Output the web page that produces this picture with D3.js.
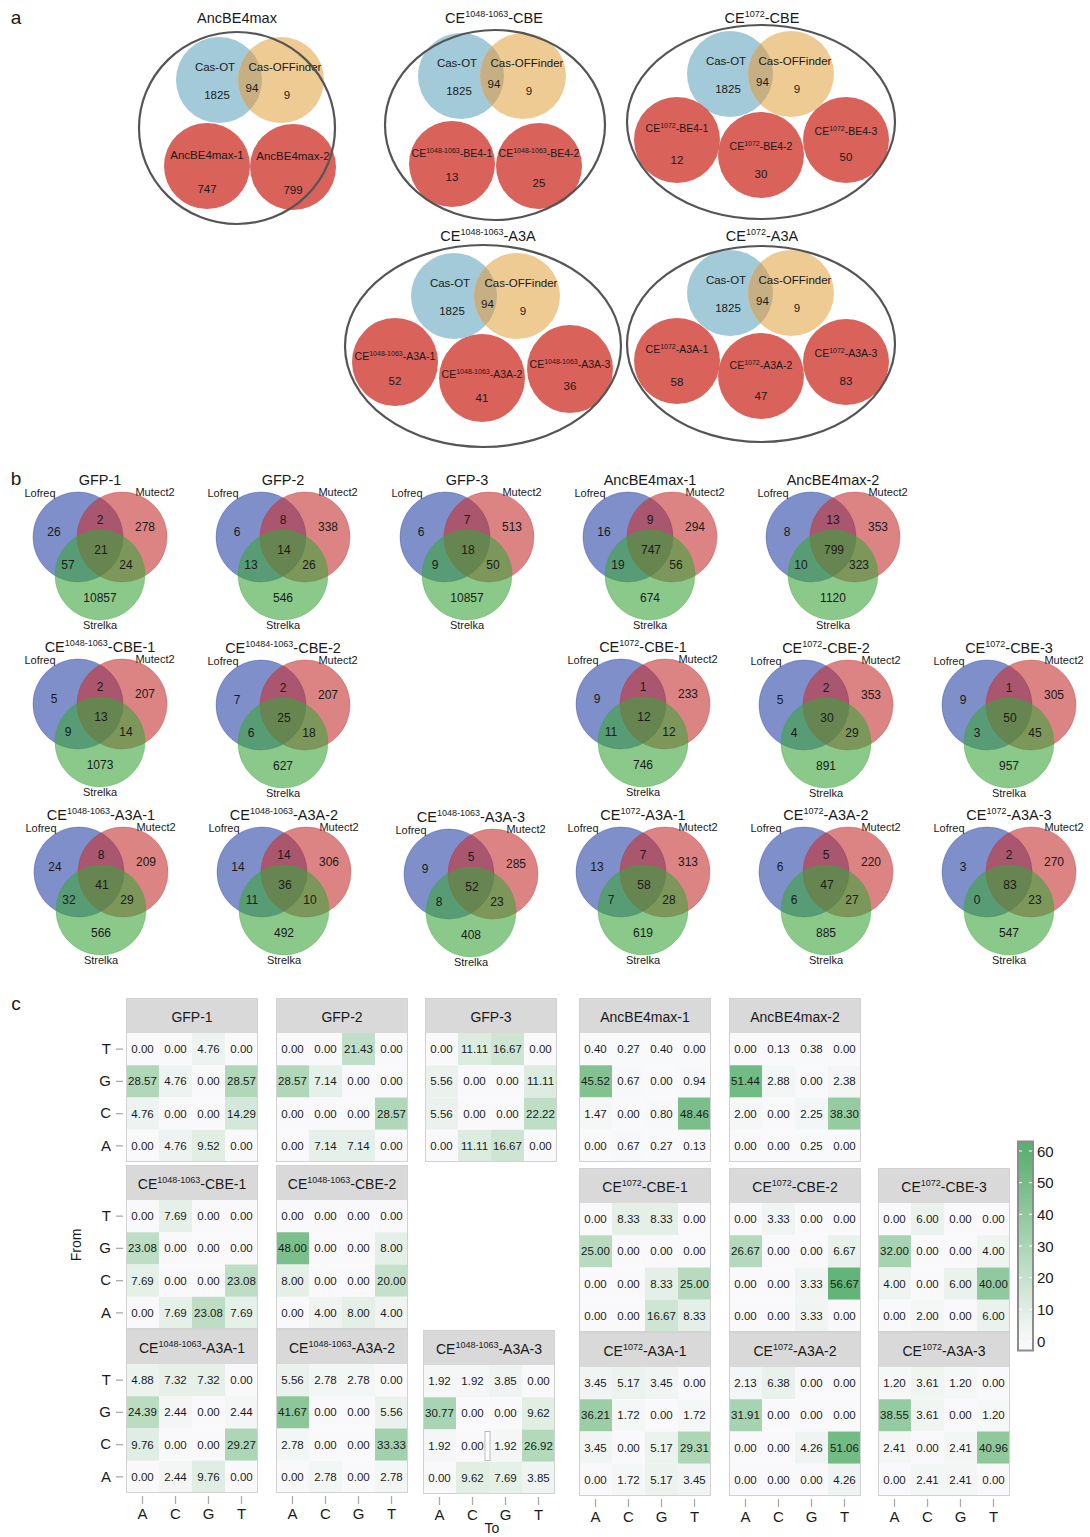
<!DOCTYPE html>
<html><head><meta charset="utf-8">
<script src="https://cdn.jsdelivr.net/npm/d3@7"></script>
<style>body{margin:0;background:#fff} svg text{font-family:"Liberation Sans",Arial,sans-serif}</style>
</head><body>
<svg id="fig" width="1090" height="1537"></svg>
<script>
// ================= DATA =================
// ---- panel a ----
const aGroupTitles = ["AncBE4max", "CE^1048-1063^-CBE", "CE^1072^-CBE", "CE^1048-1063^-A3A", "CE^1072^-A3A"];
const aToolLabels = ["Cas-OT", "Cas-OFFinder"];
const aToolCounts = [1825, 94, 9]; // Cas-OT only, shared, Cas-OFFinder only
const aSampleLabels = [
  ["AncBE4max-1", "AncBE4max-2"],
  ["CE^1048-1063^-BE4-1", "CE^1048-1063^-BE4-2"],
  ["CE^1072^-BE4-1", "CE^1072^-BE4-2", "CE^1072^-BE4-3"],
  ["CE^1048-1063^-A3A-1", "CE^1048-1063^-A3A-2", "CE^1048-1063^-A3A-3"],
  ["CE^1072^-A3A-1", "CE^1072^-A3A-2", "CE^1072^-A3A-3"]
];
const aSampleCounts = [[747, 799], [13, 25], [12, 30, 50], [52, 41, 36], [58, 47, 83]];

// ---- panel b ----
const bCallers = ["Lofreq", "Mutect2", "Strelka"];
const bSamples = ["GFP-1", "GFP-2", "GFP-3", "AncBE4max-1", "AncBE4max-2",
  "CE^1048-1063^-CBE-1", "CE^10484-1063^-CBE-2", "CE^1072^-CBE-1", "CE^1072^-CBE-2", "CE^1072^-CBE-3",
  "CE^1048-1063^-A3A-1", "CE^1048-1063^-A3A-2", "CE^1048-1063^-A3A-3", "CE^1072^-A3A-1", "CE^1072^-A3A-2", "CE^1072^-A3A-3"];
// regions: Lofreq only, Lofreq&Mutect2, Mutect2 only, all three, Lofreq&Strelka, Mutect2&Strelka, Strelka only
const bRegions = ["L", "LM", "M", "LMS", "LS", "MS", "S"];
const bCounts = [
  [26, 2, 278, 21, 57, 24, 10857],
  [6, 8, 338, 14, 13, 26, 546],
  [6, 7, 513, 18, 9, 50, 10857],
  [16, 9, 294, 747, 19, 56, 674],
  [8, 13, 353, 799, 10, 323, 1120],
  [5, 2, 207, 13, 9, 14, 1073],
  [7, 2, 207, 25, 6, 18, 627],
  [9, 1, 233, 12, 11, 12, 746],
  [5, 2, 353, 30, 4, 29, 891],
  [9, 1, 305, 50, 3, 45, 957],
  [24, 8, 209, 41, 32, 29, 566],
  [14, 14, 306, 36, 11, 10, 492],
  [9, 5, 285, 52, 8, 23, 408],
  [13, 7, 313, 58, 7, 28, 619],
  [6, 5, 220, 47, 6, 27, 885],
  [3, 2, 270, 83, 0, 23, 547]
];

// ---- panel c ----
const cFrom = ["T", "G", "C", "A"];
const cTo = ["A", "C", "G", "T"];
const cSamples = ["GFP-1", "GFP-2", "GFP-3", "AncBE4max-1", "AncBE4max-2",
  "CE^1048-1063^-CBE-1", "CE^1048-1063^-CBE-2", "CE^1072^-CBE-1", "CE^1072^-CBE-2", "CE^1072^-CBE-3",
  "CE^1048-1063^-A3A-1", "CE^1048-1063^-A3A-2", "CE^1048-1063^-A3A-3", "CE^1072^-A3A-1", "CE^1072^-A3A-2", "CE^1072^-A3A-3"];
const cValues = [
  [[0.00, 0.00, 4.76, 0.00], [28.57, 4.76, 0.00, 28.57], [4.76, 0.00, 0.00, 14.29], [0.00, 4.76, 9.52, 0.00]],
  [[0.00, 0.00, 21.43, 0.00], [28.57, 7.14, 0.00, 0.00], [0.00, 0.00, 0.00, 28.57], [0.00, 7.14, 7.14, 0.00]],
  [[0.00, 11.11, 16.67, 0.00], [5.56, 0.00, 0.00, 11.11], [5.56, 0.00, 0.00, 22.22], [0.00, 11.11, 16.67, 0.00]],
  [[0.40, 0.27, 0.40, 0.00], [45.52, 0.67, 0.00, 0.94], [1.47, 0.00, 0.80, 48.46], [0.00, 0.67, 0.27, 0.13]],
  [[0.00, 0.13, 0.38, 0.00], [51.44, 2.88, 0.00, 2.38], [2.00, 0.00, 2.25, 38.30], [0.00, 0.00, 0.25, 0.00]],
  [[0.00, 7.69, 0.00, 0.00], [23.08, 0.00, 0.00, 0.00], [7.69, 0.00, 0.00, 23.08], [0.00, 7.69, 23.08, 7.69]],
  [[0.00, 0.00, 0.00, 0.00], [48.00, 0.00, 0.00, 8.00], [8.00, 0.00, 0.00, 20.00], [0.00, 4.00, 8.00, 4.00]],
  [[0.00, 8.33, 8.33, 0.00], [25.00, 0.00, 0.00, 0.00], [0.00, 0.00, 8.33, 25.00], [0.00, 0.00, 16.67, 8.33]],
  [[0.00, 3.33, 0.00, 0.00], [26.67, 0.00, 0.00, 6.67], [0.00, 0.00, 3.33, 56.67], [0.00, 0.00, 3.33, 0.00]],
  [[0.00, 6.00, 0.00, 0.00], [32.00, 0.00, 0.00, 4.00], [4.00, 0.00, 6.00, 40.00], [0.00, 2.00, 0.00, 6.00]],
  [[4.88, 7.32, 7.32, 0.00], [24.39, 2.44, 0.00, 2.44], [9.76, 0.00, 0.00, 29.27], [0.00, 2.44, 9.76, 0.00]],
  [[5.56, 2.78, 2.78, 0.00], [41.67, 0.00, 0.00, 5.56], [2.78, 0.00, 0.00, 33.33], [0.00, 2.78, 0.00, 2.78]],
  [[1.92, 1.92, 3.85, 0.00], [30.77, 0.00, 0.00, 9.62], [1.92, 0.00, 1.92, 26.92], [0.00, 9.62, 7.69, 3.85]],
  [[3.45, 5.17, 3.45, 0.00], [36.21, 1.72, 0.00, 1.72], [3.45, 0.00, 5.17, 29.31], [0.00, 1.72, 5.17, 3.45]],
  [[2.13, 6.38, 0.00, 0.00], [31.91, 0.00, 0.00, 0.00], [0.00, 0.00, 4.26, 51.06], [0.00, 0.00, 0.00, 4.26]],
  [[1.20, 3.61, 1.20, 0.00], [38.55, 3.61, 0.00, 1.20], [2.41, 0.00, 2.41, 40.96], [0.00, 2.41, 2.41, 0.00]]
];
const cLegendTicks = [0, 10, 20, 30, 40, 50, 60];
const cAxisTitles = ["From", "To"];

// ================= LAYOUT =================
const aTitlePos = [[237, 18], [494, 18], [762, 18], [488, 236], [762, 236]];
// reds: [cx, cy, labelDy, numberDy]
const aLayout = [
  {ell: [237, 128, 98, 96], blue: [219, 80], orange: [281, 80], r: 43,
   reds: [[207, 166, -11, 23], [293, 167, -11, 23]], rrx: 43, rry: 43},
  {ell: [495, 125, 110, 95], blue: [461, 76], orange: [523, 76], r: 43,
   reds: [[452, 164, -11, 13], [539, 166, -13, 17]], rrx: 43, rry: 43},
  {ell: [761, 122, 134, 97], blue: [730, 74], orange: [791, 74], r: 43,
   reds: [[677, 140, -12, 20], [761, 155, -9, 19], [846, 140, -9, 17]], rrx: 43, rry: 43},
  {ell: [483, 346, 138, 101], blue: [454, 296], orange: [517, 296], r: 43,
   reds: [[395, 362, -6, 19], [482, 378, -4, 20], [570, 369, -5, 17]], rrx: 43, rry: 44},
  {ell: [761, 344, 134, 98], blue: [730, 293], orange: [791, 293], r: 43,
   reds: [[677, 361, -12, 21], [761, 376, -11, 20], [846, 362, -9, 19]], rrx: 43, rry: 43}
];
const bPos = [[100, 480], [283, 480], [467, 480], [650, 480], [833, 480],
  [100, 647], [283, 648], [643, 647], [826, 648], [1009, 648],
  [101, 815], [284, 815], [471, 817], [643, 815], [826, 815], [1009, 815]];
const bNumOffset = {L: [-46, 52], LM: [0, 40], M: [45, 47], LMS: [1, 70], LS: [-32, 85], MS: [26, 85], S: [0, 118]};
const cPos = [[126, 998], [276, 998], [425, 998], [579, 998], [729, 998],
  [126, 1165], [276, 1165], [579, 1168], [729, 1168], [878, 1168],
  [126, 1329], [276, 1329], [423, 1330], [579, 1332], [729, 1332], [878, 1332]];

// ================= HELPERS =================
const svg = d3.select("#fig");
function rich(textSel, str, size, supSize) {
  const parts = str.split("^");
  let shifted = false;
  parts.forEach((p, i) => {
    const isSup = i % 2 === 1;
    if (!p) return;
    const t = textSel.append("tspan").attr("font-size", isSup ? supSize : size).text(p);
    if (isSup && !shifted) { t.attr("dy", -Math.round(size * 0.42)); shifted = true; }
    else if (!isSup && shifted) { t.attr("dy", Math.round(size * 0.42)); shifted = false; }
  });
  return textSel;
}
function label(g, x, y, str, size, supSize, opts = {}) {
  const t = g.append("text").attr("x", x).attr("y", y + size * 0.36)
    .attr("text-anchor", opts.anchor || "middle").attr("fill", opts.fill || "#1a1a1a");
  if (opts.family) t.attr("font-family", opts.family);
  rich(t, str, size, supSize || Math.round(size * 0.62));
  return t;
}

// panel letters
label(svg, 16, 17, "a", 19);
label(svg, 16, 478, "b", 19);
label(svg, 16, 1003, "c", 19);

// ================= PANEL A =================
const defs = svg.append("defs");
aGroupTitles.forEach((title, gi) => {
  const L = aLayout[gi];
  const g = svg.append("g");
  const clipId = "clipOrange" + gi;
  defs.append("clipPath").attr("id", clipId).append("circle")
    .attr("cx", L.orange[0]).attr("cy", L.orange[1]).attr("r", L.r);
  g.append("circle").attr("cx", L.blue[0]).attr("cy", L.blue[1]).attr("r", L.r).attr("fill", "#a2cad8");
  g.append("circle").attr("cx", L.orange[0]).attr("cy", L.orange[1]).attr("r", L.r).attr("fill", "#eecb93");
  g.append("circle").attr("cx", L.blue[0]).attr("cy", L.blue[1]).attr("r", L.r)
    .attr("fill", "#c7af84").attr("clip-path", `url(#${clipId})`);
  // tool labels
  label(g, L.blue[0] - 4, L.blue[1] - 13, aToolLabels[0], 11.5);
  label(g, L.blue[0] - 2, L.blue[1] + 15, String(aToolCounts[0]), 11.5);
  label(g, (L.blue[0] + L.orange[0]) / 2 + 2, L.blue[1] + 8, String(aToolCounts[1]), 11.5);
  label(g, L.orange[0] + 4, L.orange[1] - 13, aToolLabels[1], 11.5);
  label(g, L.orange[0] + 6, L.orange[1] + 15, String(aToolCounts[2]), 11.5);
  // sample circles
  aSampleLabels[gi].forEach((s, si) => {
    const [cx, cy] = L.reds[si];
    g.append("ellipse").attr("cx", cx).attr("cy", cy).attr("rx", L.rrx).attr("ry", L.rry).attr("fill", "#d9625b");
  });
  aSampleLabels[gi].forEach((s, si) => {
    const [cx, cy, ldy, ndy] = L.reds[si];
    label(g, cx, cy + ldy, s, gi === 0 ? 11.5 : 10.5, 7);
    label(g, cx, cy + ndy, String(aSampleCounts[gi][si]), 11.5);
  });
  const [ex, ey, erx, ery] = L.ell;
  g.append("ellipse").attr("cx", ex).attr("cy", ey).attr("rx", erx).attr("ry", ery)
    .attr("fill", "none").attr("stroke", "#555").attr("stroke-width", 2.2);
  label(g, aTitlePos[gi][0], aTitlePos[gi][1], title, 14.5, 9);
});

// ================= PANEL B =================
const vennR = 45;
const vennColors = ["#2a44a5", "#c53032", "#3ca53c"];
bSamples.forEach((name, i) => {
  const [cx, ty] = bPos[i];
  const g = svg.append("g");
  const centers = [[cx - 22, ty + 57], [cx + 22, ty + 57], [cx, ty + 95]];
  centers.forEach((c, k) => {
    g.append("circle").attr("cx", c[0]).attr("cy", c[1]).attr("r", vennR)
      .attr("fill", vennColors[k]).attr("fill-opacity", 0.6)
      .attr("stroke", vennColors[k]).attr("stroke-opacity", 0.35).attr("stroke-width", 1);
  });
  bRegions.forEach((reg, k) => {
    const off = bNumOffset[reg];
    label(g, cx + off[0], ty + off[1], String(bCounts[i][k]), 12, 8, {fill: "#1a1a1a"});
  });
  label(g, cx - 60, ty + 13, bCallers[0], 11);
  label(g, cx + 55, ty + 12, bCallers[1], 11);
  label(g, cx, ty + 145, bCallers[2], 11);
  label(g, cx, ty, name, 14.5, 9);
});

// ================= PANEL C =================
const cW = 132, cStrip = 35, cH = 129;
const color = d3.scaleLinear().domain([0, 60]).range(["#f9f9fb", "#58b071"]).interpolate(d3.interpolateLab).clamp(true);
const xBand = d3.scaleBand().domain(cTo).range([0, cW]);
const yBand = d3.scaleBand().domain(cFrom).range([0, cH]);

cSamples.forEach((name, i) => {
  const [px, py] = cPos[i];
  const g = svg.append("g").attr("transform", `translate(${px},${py})`);
  g.append("rect").attr("width", cW).attr("height", cStrip).attr("fill", "#d9d9d9");
  label(g, cW / 2, cStrip / 2 + 1, name, 14, 9);
  const body = g.append("g").attr("transform", `translate(0,${cStrip})`);
  const cells = [];
  cFrom.forEach((f, r) => cTo.forEach((t, c) => cells.push({f, t, v: cValues[i][r][c]})));
  body.selectAll("rect.cell").data(cells).join("rect").attr("class", "cell")
    .attr("x", d => xBand(d.t)).attr("y", d => yBand(d.f))
    .attr("width", xBand.bandwidth()).attr("height", yBand.bandwidth())
    .attr("fill", d => color(d.v));
  body.selectAll("text.val").data(cells).join("text").attr("class", "val")
    .attr("x", d => xBand(d.t) + xBand.bandwidth() / 2)
    .attr("y", d => yBand(d.f) + yBand.bandwidth() / 2 + 4)
    .attr("text-anchor", "middle").attr("font-family", "Liberation Serif, serif")
    .attr("font-size", 11.5).attr("fill", "#1a1a1a")
    .text(d => d.v.toFixed(2));
  g.append("rect").attr("x", 0.5).attr("y", 0.5).attr("width", cW - 1).attr("height", cStrip + cH - 1)
    .attr("fill", "none").attr("stroke", "#d2d2d2").attr("stroke-width", 1);
  if (i === 12) {
    // small outlined marker visible in the reference panel
    body.append("rect").attr("x", xBand("G") - 4).attr("y", yBand("C") + 2).attr("width", 5).attr("height", 29)
      .attr("fill", "#fff").attr("stroke", "#aaa").attr("stroke-width", 0.8);
  }
  if (px === 126) {
    const ax = svg.append("g").attr("transform", `translate(${px - 3},${py + cStrip})`)
      .call(d3.axisLeft(yBand).tickSize(7).tickPadding(5));
    ax.select(".domain").remove();
    ax.selectAll(".tick line").attr("stroke", "#aaa").attr("stroke-width", 1.3);
    ax.selectAll(".tick text").attr("font-size", 15).attr("fill", "#1a1a1a")
      .attr("font-family", "Liberation Sans, Arial, sans-serif");
  }
  if (i >= 10) {
    const ax = svg.append("g").attr("transform", `translate(${px},${py + cStrip + cH + 3})`)
      .call(d3.axisBottom(xBand).tickSize(8).tickPadding(4));
    ax.select(".domain").remove();
    ax.selectAll(".tick line").attr("stroke", "#aaa").attr("stroke-width", 1.3);
    ax.selectAll(".tick text").attr("font-size", 15).attr("fill", "#1a1a1a")
      .attr("font-family", "Liberation Sans, Arial, sans-serif");
  }
});
// axis titles
svg.append("text").attr("transform", "translate(81,1245) rotate(-90)").attr("text-anchor", "middle")
  .attr("font-size", 14).attr("fill", "#1a1a1a").text(cAxisTitles[0]);
svg.append("text").attr("x", 492).attr("y", 1533).attr("text-anchor", "middle")
  .attr("font-size", 14).attr("fill", "#1a1a1a").text(cAxisTitles[1]);

// legend colourbar
const ly = d3.scaleLinear().domain([0, 60]).range([1341, 1151]);
const grad = defs.append("linearGradient").attr("id", "legGrad").attr("x1", 0).attr("y1", 1).attr("x2", 0).attr("y2", 0);
d3.range(0, 11).forEach(k => {
  const v = -3 + k * 6.6;
  grad.append("stop").attr("offset", k / 10).attr("stop-color", color(Math.max(0, v)));
});
const barTop = ly(63), barBot = ly(-3);
svg.append("rect").attr("x", 1018).attr("y", barTop).attr("width", 15).attr("height", barBot - barTop)
  .attr("fill", "url(#legGrad)").attr("stroke", "#8c8c8c").attr("stroke-width", 2);
cLegendTicks.forEach(t => {
  svg.append("line").attr("x1", 1019).attr("x2", 1022).attr("y1", ly(t)).attr("y2", ly(t)).attr("stroke", "#fff").attr("stroke-width", 1);
  svg.append("line").attr("x1", 1029).attr("x2", 1032).attr("y1", ly(t)).attr("y2", ly(t)).attr("stroke", "#fff").attr("stroke-width", 1);
  svg.append("text").attr("x", 1037).attr("y", ly(t) + 5.5).attr("font-size", 15).attr("fill", "#1a1a1a").text(t);
});
</script>
</body></html>
